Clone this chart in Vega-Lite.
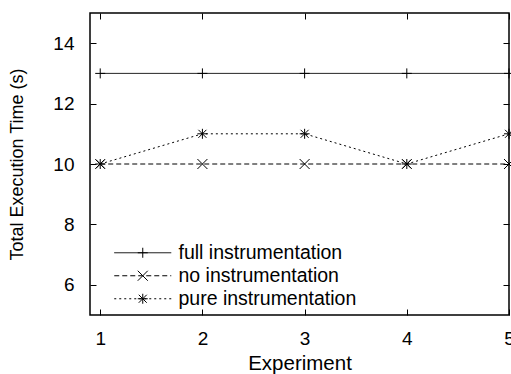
{
  "$schema": "https://vega.github.io/schema/vega-lite/v6.json",
  "width": 419,
  "height": 302,
  "autosize": {"type": "none"},
  "padding": {"left": 90, "top": 13, "right": 2, "bottom": 59},
  "background": "white",
  "config": {
    "view": {"stroke": "black", "strokeWidth": 1.5},
    "font": "Liberation Sans",
    "axis": {
      "grid": false,
      "domain": false,
      "tickColor": "black",
      "tickWidth": 1,
      "tickSize": -6,
      "labelColor": "black",
      "labelFontSize": 19,
      "labelFont": "Liberation Sans",
      "titleFont": "Liberation Sans",
      "titleFontWeight": "normal",
      "titleColor": "black",
      "labelFlush": false,
      "labelOverlap": false
    },
    "legend": {
      "labelFont": "Liberation Sans",
      "labelFontSize": 19.5,
      "labelColor": "black",
      "labelLimit": 0,
      "padding": 0
    }
  },
  "data": {
    "values": [
      {"experiment": 1, "time": 13, "series": "full instrumentation"},
      {"experiment": 2, "time": 13, "series": "full instrumentation"},
      {"experiment": 3, "time": 13, "series": "full instrumentation"},
      {"experiment": 4, "time": 13, "series": "full instrumentation"},
      {"experiment": 5, "time": 13, "series": "full instrumentation"},
      {"experiment": 1, "time": 10, "series": "no instrumentation"},
      {"experiment": 2, "time": 10, "series": "no instrumentation"},
      {"experiment": 3, "time": 10, "series": "no instrumentation"},
      {"experiment": 4, "time": 10, "series": "no instrumentation"},
      {"experiment": 5, "time": 10, "series": "no instrumentation"},
      {"experiment": 1, "time": 10, "series": "pure instrumentation"},
      {"experiment": 2, "time": 11, "series": "pure instrumentation"},
      {"experiment": 3, "time": 11, "series": "pure instrumentation"},
      {"experiment": 4, "time": 10, "series": "pure instrumentation"},
      {"experiment": 5, "time": 11, "series": "pure instrumentation"}
    ]
  },
  "layer": [
    {
      "mark": {"type": "line", "color": "black", "strokeWidth": 1},
      "encoding": {
        "x": {
          "field": "experiment", "type": "quantitative",
          "scale": {"domain": [0.9, 5], "nice": false, "zero": false},
          "axis": {"orient": "bottom", "values": [1, 2, 3, 4, 5], "title": "Experiment", "titleFontSize": 20.5, "labelPadding": 20, "titlePadding": 5.5}
        },
        "y": {
          "field": "time", "type": "quantitative",
          "scale": {"domain": [5, 15], "nice": false, "zero": false},
          "axis": {"orient": "left", "values": [6, 8, 10, 12, 14], "title": "Total Execution Time (s)", "titleFontSize": 18, "labelPadding": 22, "titlePadding": 26}
        },
        "strokeDash": {
          "field": "series", "type": "nominal",
          "scale": {"range": [[1, 0], [5, 3], [2, 3]]},
          "legend": {
            "orient": "none", "legendX": 43, "legendY": 230, "title": null,
            "symbolType": "M-5.7,0H5.7", "symbolSize": 100,
            "symbolStrokeColor": "black", "symbolStrokeWidth": 1,
            "labelOffset": 26
          }
        }
      }
    },
    {
      "mark": {"type": "point", "filled": false, "color": "black", "strokeWidth": 1, "size": 100, "opacity": 1},
      "encoding": {
        "x": {
          "field": "experiment", "type": "quantitative",
          "axis": {"orient": "top", "values": [1, 2, 3, 4, 5], "labels": false, "title": null}
        },
        "y": {
          "field": "time", "type": "quantitative",
          "axis": {"orient": "right", "values": [6, 8, 10, 12, 14], "labels": false, "title": null}
        },
        "shape": {
          "field": "series", "type": "nominal",
          "scale": {
            "domain": ["full instrumentation", "no instrumentation", "pure instrumentation"],
            "range": ["M-1,0H1M0,-1V1", "M-1,-1L1,1M-1,1L1,-1", "M-1,0H1M0,-1V1M-0.8,-0.8L0.8,0.8M-0.8,0.8L0.8,-0.8"]
          },
          "legend": {
            "orient": "none", "legendX": 43, "legendY": 230, "title": null,
            "symbolSize": 100, "symbolStrokeColor": "black", "symbolStrokeWidth": 1,
            "symbolFillColor": "transparent", "labelOpacity": 0, "labelOffset": 26
          }
        }
      }
    }
  ],
  "resolve": {"axis": {"x": "independent", "y": "independent"}}
}
